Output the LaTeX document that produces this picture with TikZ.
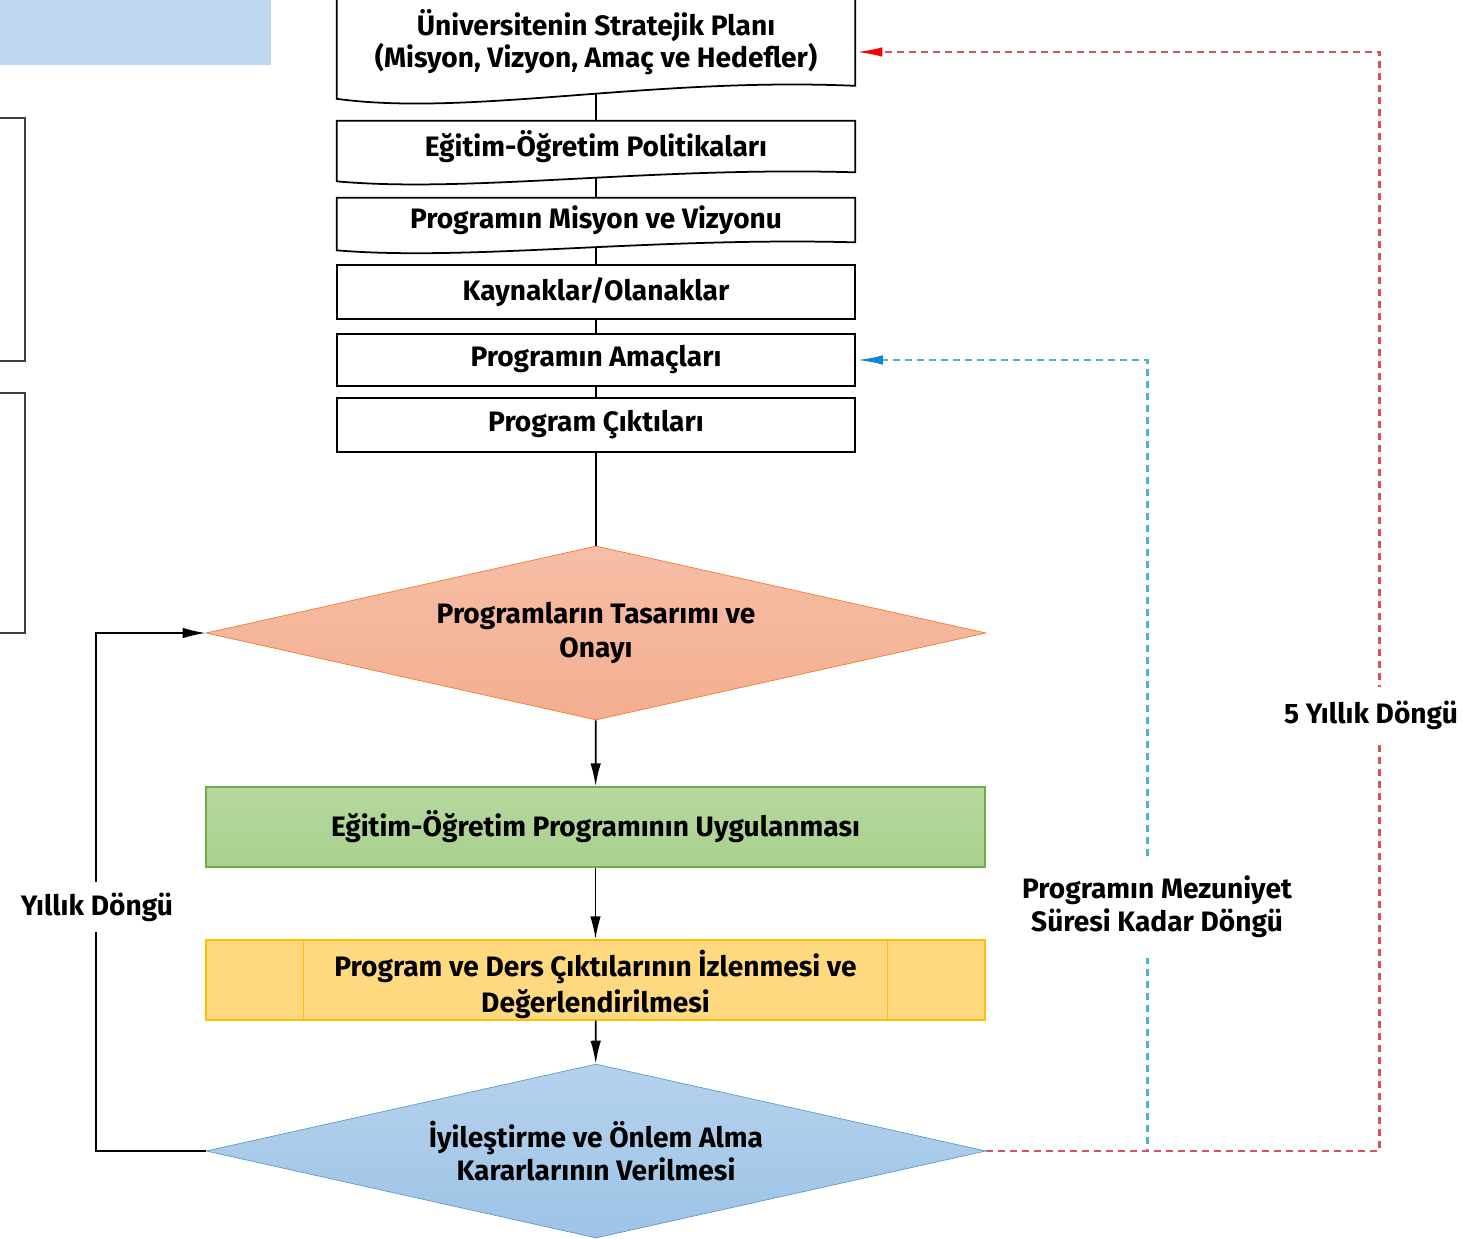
\documentclass[tikz,border=0pt]{standalone}
\usepackage{fontspec}
\setmainfont{Fira Sans}
\usetikzlibrary{arrows.meta,positioning,shapes.geometric,backgrounds}

\definecolor{serit}{HTML}{BDD7EE}
\definecolor{somon}{HTML}{F4AE90}
\definecolor{somonkenar}{HTML}{ED7D31}
\definecolor{yesil}{HTML}{A9D18E}
\definecolor{yesilkenar}{HTML}{70AD47}
\definecolor{sari}{HTML}{FFD980}
\definecolor{sarikenar}{HTML}{FFC000}
\definecolor{mavi}{HTML}{9DC3E6}
\definecolor{mavikenar}{HTML}{5B9BD5}
\definecolor{kesikkirmizi}{HTML}{D9505F}
\definecolor{kesikmavi}{HTML}{4BB3DA}

\tikzset{
  yazi/.style={font=\bfseries\fontsize{16}{19}\selectfont, align=center},
  kutu/.style={yazi, draw, line width=1pt, minimum width=10.36cm, inner sep=0pt},
  belge/.style={yazi, minimum width=10.36cm, inner sep=0pt},
  dalga/.style={draw, fill=white, line width=1pt},
  karar/.style={yazi, diamond, aspect=4.5, inner sep=0pt, minimum width=15.6cm, minimum height=3.48cm},
  surec/.style={yazi, rectangle, line width=0.8pt, minimum width=15.58cm, minimum height=1.6cm},
  baglanti/.style={line width=1pt},
  ok/.style={baglanti, -{Latex[length=4.6mm,width=2.1mm]}},
  kirmizikesik/.style={draw=kesikkirmizi, line width=1.6pt, dash pattern=on 1.4mm off 1mm,
    -{Latex[length=5.4mm,width=1.9mm,color=red]}},
  mavikesik/.style={draw=kesikmavi, line width=1.6pt, dash pattern=on 1.4mm off 1mm,
    -{Latex[length=5.4mm,width=1.9mm,color=cyan!70!blue]}},
  etiket/.style={yazi, fill=white, inner xsep=2pt},
  solkutu/.style={draw=black!75, line width=1.2pt}
}

\begin{document}
\begin{tikzpicture}[x=0.02cm,y=-0.02cm]
\useasboundingbox (0,0) rectangle (1473,1239);
\fill[serit] (0,0) rectangle (271,65);%sol üst şerit
\draw[solkutu] (-20,118) rectangle (25,361);
\draw[solkutu] (-20,393) rectangle (25,633);

% üst kutular
\node[belge, minimum height=1.74cm, font=\bfseries\fontsize{16}{18}\selectfont] (plan) at (596,42) {Üniversitenin Stratejik Planı\\(Misyon, Vizyon, Amaç ve Hedefler)};
\node[belge, minimum height=1.02cm] (pol) at (596,146.5) {Eğitim-Öğretim Politikaları};
\node[belge, minimum height=0.88cm] (misyon) at (596,220) {Programın Misyon ve Vizyonu};
\node[kutu, minimum height=1.08cm] (kaynak) at (596,292) {Kaynaklar/Olanaklar};
\node[kutu, minimum height=1.04cm] (amac) at (596,360) {Programın Amaçları};
\node[kutu, minimum height=1.08cm] (cikti) at (596,425) {Program Çıktıları};

% akış
\node[karar, draw=somonkenar, top color=somon!80!white, bottom color=somon] (tasarim) at (596,633) {Programların Tasarımı ve\\Onayı};
\node[surec, draw=yesilkenar, top color=yesil!85!white, bottom color=yesil] (uygula) at (595.5,827) {Eğitim-Öğretim Programının Uygulanması};
\node[surec, draw=sarikenar, fill=sari] (izle) at (595.5,980) {};
\node[yazi, font=\bfseries\fontsize{16}{20.5}\selectfont] (izleyazi) at (595.5,984) {Program ve Ders Çıktılarının İzlenmesi ve\\Değerlendirilmesi};
\draw[sarikenar, line width=0.8pt] ([xshift=1.96cm]izle.north west) -- ([xshift=1.96cm]izle.south west);
\draw[sarikenar, line width=0.8pt] ([xshift=-1.96cm]izle.north east) -- ([xshift=-1.96cm]izle.south east);
\node[karar, draw=mavikenar, top color=mavi!75!white, bottom color=mavi] (iyiles) at (596,1151) {İyileştirme ve Önlem Alma\\Kararlarının Verilmesi};

\begin{scope}[on background layer]
\foreach \a/\b in {plan/pol, pol/misyon, misyon/kaynak, kaynak/amac, amac/cikti, cikti/tasarim}
  \draw[baglanti] (\a.south) -- (\b.north);
\foreach \ad/\dusus/\cukur in {plan/13/18, pol/9/12, misyon/8/11}
  \draw[dalga] (\ad.south west) -- (\ad.north west) -- (\ad.north east) -- (\ad.south east)
    .. controls +(-205,-\cukur/2) and +(133,\cukur) .. ([yshift=-\dusus*0.02cm]\ad.south west) -- cycle;
\end{scope}

\draw[ok] (tasarim) -- (uygula);
\draw[ok] (uygula) -- (izle);
\draw[ok] (izle) -- (iyiles);

% döngüler
\draw[ok] (iyiles.west) -- ++(-110,0) |- (tasarim.west);
\draw[mavikesik] (iyiles.east) -- ++(161,0) |- (amac.east);
\draw[kirmizikesik] (iyiles.east) -- ++(393,0) |- ([yshift=-0.2cm]plan.east);

\node[etiket, inner ysep=0.22cm] (yillik) at (97,907) {Yıllık Döngü};
\node[etiket, inner ysep=0.4cm] (mezun) at (1157,907) {Programın Mezuniyet\\Süresi Kadar Döngü};
\node[etiket, inner ysep=0.28cm] (bes) at (1371,715) {5 Yıllık Döngü};
\end{tikzpicture}
\end{document}
